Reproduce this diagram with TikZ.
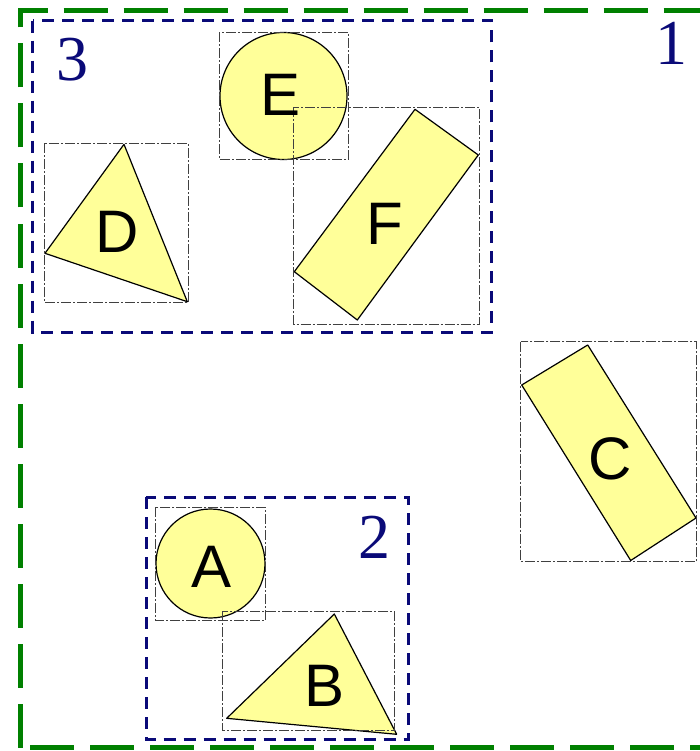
\documentclass[tikz,border=0pt]{standalone}
\usepackage{fontspec}
\setmainfont{Liberation Serif}
\newfontfamily\lettersans{Liberation Sans}
\begin{document}
\begin{tikzpicture}[x=1pt,y=-1pt,
  outer/.style={draw=green!50!black, line width=5pt, dash pattern=on 44pt off 16pt},
  group/.style={draw=navyblue, line width=3pt, dash pattern=on 12pt off 8pt},
  bbox/.style={draw=black!75, line width=1pt, dash pattern=on 10pt off 2pt on 2pt off 2pt},
  shapefill/.style={fill=lightyellow, draw=black, line width=1.2pt, line join=round},
  letter/.style={inner sep=0pt, font=\lettersans\fontsize{60}{60}\selectfont},
  num/.style={inner sep=0pt, text=navyblue, font=\fontsize{64}{64}\selectfont}]
\definecolor{navyblue}{HTML}{0A0A78}
\definecolor{lightyellow}{HTML}{FFFF99}
\definecolor{darkgreen}{HTML}{008000}
\useasboundingbox (0,0) rectangle (700,751);
\begin{scope}
\clip (0,0) rectangle (700,751);
% outer group 1
\draw[outer, draw=darkgreen] (20.5,747.5) -- (20.5,10.5) -- (720,10.5) -- (720,747.5) -- cycle;
\end{scope}
% group 3 and group 2
\draw[group] (32.5,20.7) rectangle (491.7,332);
\draw[group] (146,497) rectangle (408.5,739.5);
% shapes
\fill[shapefill] (283.5,96) circle (63.5);
\fill[shapefill] (415,109.3) -- (478.3,155) -- (357.3,320) -- (294.3,271.7) -- cycle;
\fill[shapefill] (124,144.3) -- (45,253.3) -- (187.3,301.7) -- cycle;
\fill[shapefill] (587.7,345) -- (696,518) -- (630.7,560.5) -- (521.7,385) -- cycle;
\fill[shapefill] (210.5,563.5) circle (54.5);
\fill[shapefill] (334.3,614) -- (226.7,718.3) -- (396.7,734.3) -- cycle;
% bounding boxes
\draw[bbox] (219,32.3) rectangle (348.3,159.3);
\draw[bbox] (293.3,107.3) rectangle (479.3,324);
\draw[bbox] (44,143.3) rectangle (188.3,302.3);
\draw[bbox] (520.7,341.7) rectangle (696.7,561.5);
\draw[bbox] (155,507) rectangle (265.7,620);
\draw[bbox] (222,611) rectangle (394,730);
% labels
\node[letter] (E) at (281,95) {E};
\node[letter] (F) at (385,224) {F};
\node[letter] (D) at (117,232) {D};
\node[letter] (C) at (610,459) {C};
\node[letter] (A) at (212,567) {A};
\node[letter] (B) at (325,686) {B};
\node[num] (n1) at (671,43.5) {1};
\node[num] (n3) at (72,60) {3};
\node[num] (n2) at (374,537.5) {2};
\end{tikzpicture}
\end{document}
